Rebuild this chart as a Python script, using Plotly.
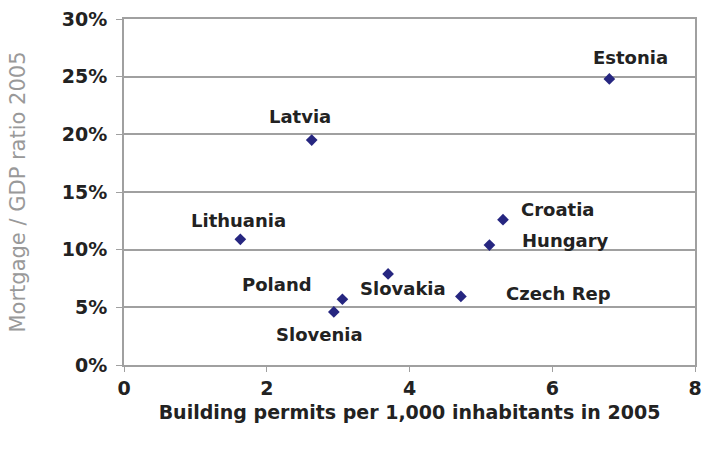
import plotly.graph_objects as go

# Building permits (per 1,000 inhabitants) vs mortgage/GDP ratio, 2005
countries = ["Estonia", "Latvia", "Lithuania", "Croatia", "Hungary",
             "Slovakia", "Poland", "Slovenia", "Czech Rep"]
permits = [6.80, 2.63, 1.63, 5.31, 5.12, 3.70, 3.06, 2.94, 4.72]
mortgage_gdp = [0.248, 0.195, 0.109, 0.126, 0.104, 0.079, 0.057, 0.046, 0.0595]

# label offsets (pixels) relative to each marker
label_dx = [21, -12, -2, 16, 31, 15, -65, -14, 98]
label_dy = [21, 24, 19, 10, 5, -15, 15, -23, 3]
label_anchor = ["center", "center", "center", "left", "left",
                "center", "center", "center", "center"]

x_ticks = [0, 2, 4, 6, 8]
y_ticks = [0, 0.05, 0.10, 0.15, 0.20, 0.25, 0.30]

grey = "#a0a0a0"
ink = "#222222"
font_bold = "DejaVu Sans"

fig = go.Figure()
fig.add_trace(go.Scatter(
    x=permits, y=mortgage_gdp, mode="markers",
    marker=dict(symbol="diamond", size=9, color="#262680"),
    hoverinfo="skip", showlegend=False,
))

for name, px_, py_, dx, dy, anc in zip(countries, permits, mortgage_gdp,
                                        label_dx, label_dy, label_anchor):
    fig.add_annotation(
        x=px_, y=py_, xref="x", yref="y", text=f"<b>{name}</b>",
        showarrow=False, xshift=dx, yshift=dy, xanchor=anc, yanchor="middle",
        font=dict(family=font_bold, size=18, color=ink),
    )

fig.update_layout(
    width=709, height=455,
    margin=dict(l=124, r=7, t=19, b=90),
    plot_bgcolor="white", paper_bgcolor="white",
    xaxis=dict(
        range=[0, 8], tickvals=x_ticks,
        ticktext=[f"<b>{v}</b>" for v in x_ticks],
        showgrid=False, zeroline=False,
        showline=True, linecolor=grey, linewidth=2, mirror=True,
        ticks="outside", ticklen=5, tickcolor=grey, tickwidth=1,
        tickfont=dict(family=font_bold, size=19, color=ink),
        title=dict(text="<b>Building permits per 1,000 inhabitants in 2005</b>",
                   font=dict(family=font_bold, size=19, color=ink), standoff=8),
    ),
    yaxis=dict(
        range=[0, 0.30], tickvals=y_ticks,
        ticktext=[f"<b>{round(v * 100)}%</b>" for v in y_ticks],
        showgrid=True, gridcolor=grey, gridwidth=1.5, zeroline=False,
        showline=True, linecolor=grey, linewidth=2, mirror=True,
        ticks="outside", ticklen=6, tickcolor=grey, tickwidth=1,
        ticklabelstandoff=5,
        tickfont=dict(family=font_bold, size=19, color=ink),
        title=dict(text="Mortgage / GDP ratio 2005",
                   font=dict(family="DejaVu Sans", size=21, color="#999999"),
                   standoff=30),
    ),
)

fig.write_html("out.html")
